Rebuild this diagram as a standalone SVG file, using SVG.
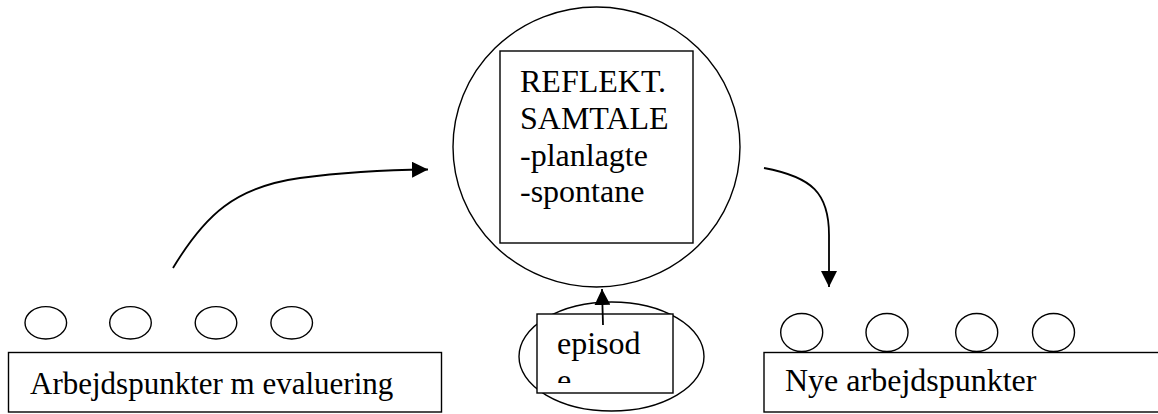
<svg xmlns="http://www.w3.org/2000/svg" width="1158" height="414" viewBox="0 0 1158 414">
<style>
.s{fill:#fff;stroke:#000;stroke-width:1.4}
.n{fill:none;stroke:#000;stroke-width:1.4}
.c{fill:none;stroke:#000;stroke-width:1.8}
text{font-family:'Liberation Serif',Tinos,'Times New Roman',Times,serif;font-size:32px;fill:#000}
</style>
<defs>
<marker id="ah" markerUnits="userSpaceOnUse" markerWidth="18" markerHeight="16" refX="16" refY="8" orient="auto">
<path d="M0,0 L16,8 L0,16 Z" fill="#000"/>
</marker>
<clipPath id="epclip"><rect x="537" y="314" width="136" height="69"/></clipPath>
</defs>
<g id="reflekt">
<ellipse class="s" cx="596.5" cy="147" rx="143.5" ry="140"/>
<rect class="s" x="500" y="51" width="193" height="192"/>
<text x="520" y="92">REFLEKT.</text>
<text x="520" y="129">SAMTALE</text>
<text x="520" y="166">-planlagte</text>
<text x="520" y="202">-spontane</text>
</g>
<g id="episode">
<ellipse class="n" cx="611.5" cy="356.5" rx="92.5" ry="54.5"/>
<rect class="s" x="537" y="314" width="136" height="79"/>
<g clip-path="url(#epclip)">
<text x="557" y="354">episod</text>
<text x="557" y="391">e</text>
</g>
</g>
<g id="left-group">
<ellipse class="n" cx="45.8" cy="322.8" rx="20.8" ry="16.2"/>
<ellipse class="n" cx="130.5" cy="322.8" rx="20.8" ry="16.2"/>
<ellipse class="n" cx="216" cy="322.8" rx="20.8" ry="16.2"/>
<ellipse class="n" cx="291.7" cy="322.8" rx="20.8" ry="16.2"/>
<rect class="s" x="8.5" y="352.5" width="433" height="59.5"/>
<text x="30" y="394" style="font-size:31px">Arbejdspunkter m evaluering</text>
</g>
<g id="right-group">
<ellipse class="n" cx="801.7" cy="332.5" rx="21" ry="19"/>
<ellipse class="n" cx="887" cy="332.5" rx="21" ry="19"/>
<ellipse class="n" cx="976.7" cy="332.5" rx="21" ry="19"/>
<ellipse class="n" cx="1053.5" cy="332.5" rx="21" ry="19"/>
<rect class="s" x="764" y="352.5" width="420" height="59.5"/>
<text x="785" y="391">Nye arbejdspunkter</text>
</g>
<g id="connectors">
<path class="c" d="M173,268 C205,215 235,187 300,178 C345,172 385,170 428,169.5" marker-end="url(#ah)"/>
<path class="c" d="M764,168 C812,177 829,193 829,235 L829,287" marker-end="url(#ah)"/>
<path class="c" d="M603,325 L602,289" marker-end="url(#ah)"/>
</g>
</svg>
